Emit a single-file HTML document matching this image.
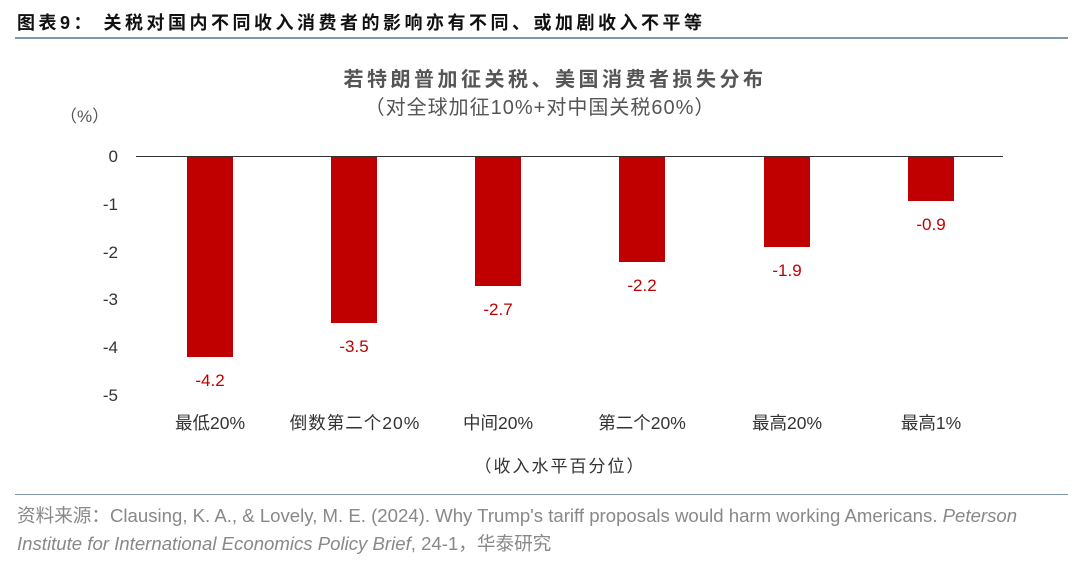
<!DOCTYPE html>
<html><head><meta charset="utf-8"><style>
body{margin:0;width:1080px;height:563px;background:#fff;position:relative;overflow:hidden;font-family:"Liberation Sans","Noto Sans CJK SC",sans-serif}
.a{position:absolute;white-space:nowrap}
.c{transform:translateX(-50%)}
.bar{position:absolute;background:#c00000;width:46px;top:157px}
.yl{position:absolute;right:962px;font-size:17px;color:#333;transform:translateY(-50%)}
.xl{font-size:17.5px;color:#333;top:410px}
.vl{font-size:17px;color:#c00000}
</style></head><body>
<div class="a" style="left:17px;top:9px;font-size:18px;font-weight:bold;color:#111;letter-spacing:3.5px">图表9：&nbsp;关税对国内不同收入消费者的影响亦有不同、或加剧收入不平等</div>
<div class="a" style="left:15px;top:37px;width:1053px;height:2px;background:#7f98b0"></div>
<div class="a c" style="left:555px;top:63px;font-size:20px;color:#555;font-weight:bold;letter-spacing:3.5px">若特朗普加征关税、美国消费者损失分布</div>
<div class="a c" style="left:540px;top:91px;font-size:20px;color:#555;letter-spacing:1px">（对全球加征10%+对中国关税60%）</div>
<div class="a" style="left:60px;top:102px;font-size:17px;color:#555">（%）</div>
<div class="a" style="left:136px;top:156px;width:867px;height:1px;background:#333"></div>
<div class="yl" style="top:157px">0</div>
<div class="yl" style="top:205px">-1</div>
<div class="yl" style="top:253px">-2</div>
<div class="yl" style="top:300px">-3</div>
<div class="yl" style="top:348px">-4</div>
<div class="yl" style="top:396px">-5</div>
<div class="bar" style="left:187px;height:200px"></div>
<div class="bar" style="left:331px;height:166px"></div>
<div class="bar" style="left:475px;height:129px"></div>
<div class="bar" style="left:619px;height:105px"></div>
<div class="bar" style="left:764px;height:90px"></div>
<div class="bar" style="left:908px;height:44px"></div>
<div class="a c vl" style="left:210px;top:371px">-4.2</div>
<div class="a c vl" style="left:354px;top:337px">-3.5</div>
<div class="a c vl" style="left:498px;top:300px">-2.7</div>
<div class="a c vl" style="left:642px;top:276px">-2.2</div>
<div class="a c vl" style="left:787px;top:261px">-1.9</div>
<div class="a c vl" style="left:931px;top:215px">-0.9</div>
<div class="a c xl" style="left:210px">最低20%</div>
<div class="a c xl" style="left:355px;letter-spacing:1px">倒数第二个20%</div>
<div class="a c xl" style="left:498px">中间20%</div>
<div class="a c xl" style="left:642px">第二个20%</div>
<div class="a c xl" style="left:787px">最高20%</div>
<div class="a c xl" style="left:931px">最高1%</div>
<div class="a c" style="left:560px;top:452px;font-size:17px;color:#333;letter-spacing:2px">（收入水平百分位）</div>
<div class="a" style="left:15px;top:494px;width:1053px;height:1px;background:#7f98b0"></div>
<div class="a" style="left:17px;top:501px;font-size:18.6px;color:#888">资料来源：Clausing, K. A., &amp; Lovely, M. E. (2024). Why Trump's tariff proposals would harm working Americans. <i>Peterson</i></div>
<div class="a" style="left:17px;top:529px;font-size:18.6px;color:#888"><i>Institute for International Economics Policy Brief</i>, 24-1，华泰研究</div>
</body></html>
